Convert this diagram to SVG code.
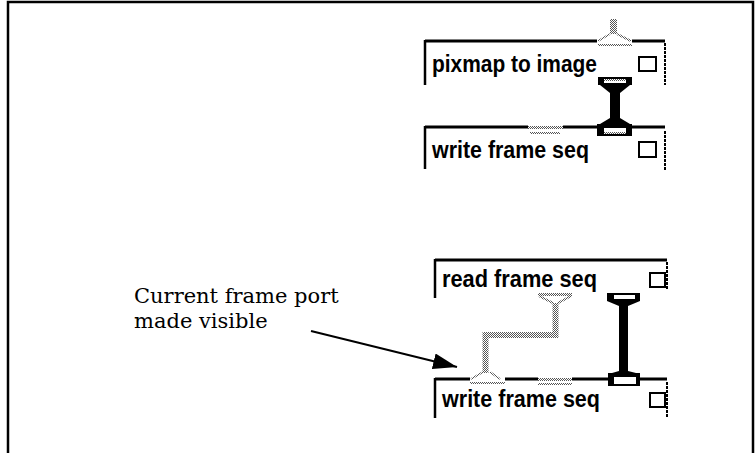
<svg xmlns="http://www.w3.org/2000/svg" width="755" height="453" viewBox="0 0 755 453">
  <style>
    .lbl { font-family: "Liberation Sans", Arial, sans-serif; font-weight: bold; font-size: 23px; fill: #000; }
    .note { font-family: "DejaVu Serif", "Liberation Serif", serif; font-size: 21px; fill: #000; }
    .top { fill: none; stroke: #000; stroke-width: 3; }
    .left { fill: none; stroke: #000; stroke-width: 2.5; }
    .right { fill: none; stroke: #000; stroke-width: 2; stroke-dasharray: 3 1; }
    .tog { fill: #fff; stroke: #000; stroke-width: 2; }
    .ink { fill: #000; }
    .hole { fill: url(#stipple); }
    .ghost { fill: url(#stipple); }
    .ghost-line { fill: none; stroke: url(#stipple); }
  </style>
  <defs>
    <!-- 50% dither used for hidden ports and their wire -->
    <pattern id="stipple" width="2" height="2" patternUnits="userSpaceOnUse">
      <rect width="2" height="2" fill="#fff"/>
      <rect width="1" height="1" fill="#555"/>
      <rect x="1" y="1" width="1" height="1" fill="#555"/>
    </pattern>
    <marker id="head" markerUnits="userSpaceOnUse" markerWidth="24" markerHeight="16" viewBox="0 0 24 16" refX="24" refY="8" orient="auto">
      <path d="M0 0 L24 8 L0 16 Z" fill="#000"/>
    </marker>
  </defs>

  <!-- outer frame -->
  <path d="M8 453 V2 H753 V453" fill="none" stroke="#000" stroke-width="2.5"/>

  <!-- upper pair -->
  <g id="node-pixmap-to-image">
    <path class="top" d="M425 41 H597 M632 41 H665"/>
    <path class="left" d="M425 40 V85"/>
    <path class="right" d="M665 43 V85"/>
    <text class="lbl" x="432" y="72" textLength="165" lengthAdjust="spacingAndGlyphs">pixmap to image</text>
    <rect class="tog" x="639" y="57" width="17" height="14"/>
    <!-- hidden input port -->
    <rect class="ghost" x="610" y="19" width="7" height="15"/>
    <path class="ghost-line" stroke-width="2" d="M610 34 L598 41 M617 34 L631 41"/>
    <rect class="ghost" x="598" y="44" width="34" height="2"/>
    <!-- output port -->
    <rect class="ink" x="598" y="77" width="34" height="8"/>
    <rect fill="#fff" x="604" y="79" width="22" height="4"/>
    <rect class="hole" x="604" y="79" width="22" height="2"/>
  </g>

  <g id="node-write-frame-seq-1">
    <path class="top" d="M425 127 H528 M563 127 H597 M632 127 H665"/>
    <path class="left" d="M425 126 V169"/>
    <path class="right" d="M665 131 V171"/>
    <text class="lbl" x="432" y="158" textLength="157" lengthAdjust="spacingAndGlyphs">write frame seq</text>
    <rect class="tog" x="639" y="142" width="17" height="15"/>
    <!-- hidden input port -->
    <rect class="ghost" x="528" y="126" width="35" height="3"/>
    <rect class="ghost" x="530" y="132" width="30" height="2"/>
    <!-- input port -->
    <rect class="ink" x="597" y="124" width="35" height="12"/>
    <rect fill="#fff" x="604" y="128" width="22" height="6"/>
    <rect class="hole" x="604" y="132" width="22" height="2"/>
  </g>

  <!-- lower pair -->
  <g id="node-read-frame-seq">
    <path class="top" d="M435 260 H667"/>
    <path class="left" d="M435 259 V298"/>
    <path class="right" d="M667 262 V290"/>
    <text class="lbl" x="442" y="287" textLength="155" lengthAdjust="spacingAndGlyphs">read frame seq</text>
    <rect class="tog" x="650" y="273" width="15" height="14"/>
    <!-- hidden output port -->
    <rect class="ghost" x="538" y="293" width="34" height="3"/>
    <path class="ghost-line" stroke-width="2" d="M539 296 L553 303 M571 296 L558 303"/>
    <!-- output port -->
    <rect class="ink" x="607" y="293" width="33" height="8"/>
    <rect fill="#fff" x="614" y="295" width="21" height="4"/>
  </g>

  <g id="node-write-frame-seq-2">
    <path class="top" d="M435 379 H470 M505 379 H538 M572 379 H608 M640 379 H667"/>
    <path class="left" d="M435 378 V418"/>
    <path class="right" d="M667 382 V417"/>
    <text class="lbl" x="442" y="407" textLength="158" lengthAdjust="spacingAndGlyphs">write frame seq</text>
    <rect class="tog" x="650" y="393" width="15" height="14"/>
    <!-- hidden input ports -->
    <path class="ghost-line" stroke-width="2" d="M483 372 L471 379 M490 372 L500 379"/>
    <rect class="ghost" x="470" y="382" width="35" height="2"/>
    <rect class="ghost" x="538" y="378" width="34" height="3"/>
    <rect class="ghost" x="538" y="383" width="34" height="2"/>
    <!-- input port -->
    <rect class="ink" x="608" y="373" width="32" height="13"/>
    <rect fill="#fff" x="614" y="377" width="22" height="7"/>
  </g>

  <g id="connectors">
    <!-- pixmap to image -> write frame seq -->
    <path class="ink" d="M600 85 H630 L620 93 V118 L630 124 H600 L610 118 V93 Z"/>
    <!-- read frame seq -> write frame seq -->
    <path class="ink" d="M607 301 H640 L628 306 V371 L636 373 H612 L619 371 V306 Z"/>
    <!-- current frame wire, made visible -->
    <path class="ghost-line" stroke-width="6" d="M555.5 303 V335 H485.5 V373"/>
  </g>

  <!-- annotation -->
  <g id="annotation">
    <text class="note" x="134" y="303">Current frame port</text>
    <text class="note" x="134" y="328">made visible</text>
    <line x1="311" y1="331" x2="457" y2="367" stroke="#000" stroke-width="2" marker-end="url(#head)"/>
  </g>
</svg>
